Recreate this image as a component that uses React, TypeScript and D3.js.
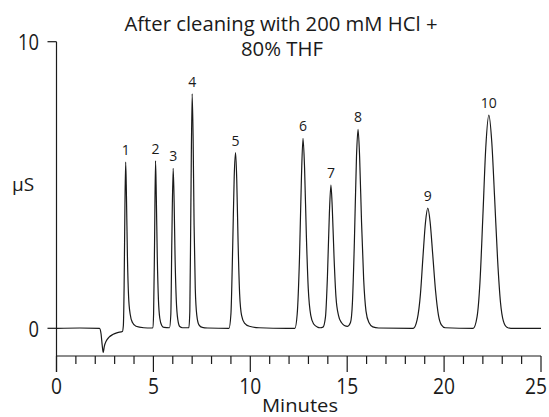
import React from "react";
import * as d3 from "d3";

// Chromatogram trace: [minutes, µS]
const baselineStart: [number, number][] = [
  [0, 0], [1.2, 0.01], [2.22, 0], [2.3, -0.2], [2.36, -0.6], [2.41, -0.84], [2.47, -0.62],
  [2.56, -0.45], [2.7, -0.32], [2.9, -0.22], [3.15, -0.15], [3.4, -0.11],
];
const peak1: [number, number][] = [
  [3.45, 0.1], [3.49, 1.5], [3.53, 4.2], [3.57, 5.8], [3.61, 4.6], [3.66, 2.5], [3.72, 1.1],
  [3.8, 0.5], [3.92, 0.2], [4.1, 0.07], [4.5, 0.02], [4.9, 0.01],
];
const peak2: [number, number][] = [
  [4.97, 0.02], [5.01, 0.5], [5.06, 3.0], [5.11, 5.84], [5.15, 4.6], [5.2, 2.5], [5.26, 1.0],
  [5.33, 0.35], [5.43, 0.1], [5.55, 0.03], [5.83, 0.02],
];
const peak3: [number, number][] = [
  [5.9, 0.5], [5.95, 3.0], [6.02, 5.58], [6.07, 4.4], [6.12, 2.4], [6.18, 1.0], [6.26, 0.3],
  [6.36, 0.06], [6.5, 0.02],
];
const peak4: [number, number][] = [
  [6.83, 0.02], [6.88, 0.6], [6.93, 4.0], [7.0, 8.18], [7.05, 6.6], [7.1, 3.6], [7.16, 1.4],
  [7.24, 0.45], [7.35, 0.12], [7.52, 0.03], [7.8, 0.01],
];
const peak5: [number, number][] = [
  [8.9, 0], [9.0, 0.5], [9.09, 2.8], [9.17, 5.3], [9.24, 6.13], [9.3, 5.2], [9.37, 3.0],
  [9.45, 1.2], [9.55, 0.45], [9.7, 0.18], [9.95, 0.07], [10.45, 0.02], [11.9, 0],
];
const peak6: [number, number][] = [
  [12.3, 0], [12.42, 0.5], [12.54, 2.5], [12.64, 5.3], [12.72, 6.63], [12.8, 5.6], [12.89, 3.3],
  [12.99, 1.4], [13.12, 0.45], [13.27, 0.15], [13.47, 0.04], [13.6, 0.02],
];
const peak7: [number, number][] = [
  [13.75, 0.04], [13.88, 0.4], [13.98, 1.8], [14.08, 4.0], [14.16, 5.0], [14.23, 4.2],
  [14.32, 2.5], [14.42, 1.1], [14.55, 0.45], [14.7, 0.2], [14.85, 0.1], [15.02, 0.07],
];
const peak8: [number, number][] = [
  [15.17, 0.2], [15.27, 0.9], [15.37, 3.0], [15.48, 6.0], [15.56, 6.94], [15.64, 6.0],
  [15.74, 3.7], [15.85, 1.7], [15.97, 0.6], [16.12, 0.2], [16.32, 0.05], [16.62, 0.01], [18.3, 0],
];
const peak9: [number, number][] = [
  [18.41, 0], [18.61, 0.3], [18.78, 1.2], [18.91, 2.5], [19.04, 3.7], [19.16, 4.19], [19.28, 3.7],
  [19.41, 2.6], [19.56, 1.3], [19.71, 0.45], [19.86, 0.12], [20.06, 0.02],
];
const peak10: [number, number][] = [
  [21.5, 0], [21.7, 0.4], [21.85, 1.6], [22.0, 3.9], [22.15, 6.3], [22.31, 7.44], [22.46, 6.5],
  [22.61, 4.5], [22.76, 2.4], [22.91, 0.9], [23.06, 0.25], [23.24, 0.04], [23.45, 0], [25, 0],
];

const peakLabels = ["1", "2", "3", "4", "5", "6", "7", "8", "9", "10"];
const peakTimes = [3.57, 5.11, 6.02, 7.0, 9.24, 12.72, 14.16, 15.56, 19.16, 22.31];
const peakHeights = [5.8, 5.84, 5.58, 8.18, 6.13, 6.63, 5.0, 6.94, 4.19, 7.44];

const xMajorTicks = [0, 5, 10, 15, 20, 25];
const xMinorTicks = d3.range(0, 26, 1);
const yTicks = [0, 10];

const titleLines = ["After cleaning with 200 mM HCl +", "80% THF"];
const xLabel = "Minutes";
const yLabel = "µS";

export default function App() {
  const W = 549;
  const H = 417;
  const x = d3.scaleLinear().domain([0, 25]).range([56.5, 541]);
  const y = d3.scaleLinear().domain([0, 10]).range([328.3, 41.7]);
  const axisY = 356;

  const trace = [
    ...baselineStart, ...peak1, ...peak2, ...peak3, ...peak4, ...peak5,
    ...peak6, ...peak7, ...peak8, ...peak9, ...peak10,
  ];
  const line = d3
    .line<[number, number]>()
    .x((d) => x(d[0]))
    .y((d) => y(d[1]))
    .curve(d3.curveMonotoneX);

  const font = "'Open Sans', 'Noto Sans', sans-serif";
  const ink = "#1a1a1a";

  return (
    <svg
      width={W}
      height={H}
      style={{ position: "absolute", left: 0, top: 0, background: "#fff" }}
      fontFamily={font}
    >
      {/* title */}
      <text x={281} y={30.5} textAnchor="middle" fontSize={20} fill={ink}
        textLength={313} lengthAdjust="spacingAndGlyphs">{titleLines[0]}</text>
      <text x={282} y={56} textAnchor="middle" fontSize={20} fill={ink}
        textLength={82} lengthAdjust="spacingAndGlyphs">{titleLines[1]}</text>

      {/* y axis */}
      <line x1={x(0)} x2={x(0)} y1={y(10)} y2={axisY + 16} stroke={ink} strokeWidth={1.2} />
      {yTicks.map((t) => (
        <g key={"yt" + t}>
          <line x1={x(0) - 9} x2={x(0)} y1={y(t)} y2={y(t)} stroke={ink} strokeWidth={1.2} />
          <text x={39} y={y(t) + 8.5} textAnchor="end" fontSize={22} fill={ink}
            textLength={t === 10 ? 21 : 10.5} lengthAdjust="spacingAndGlyphs">{t}</text>
        </g>
      ))}
      <text x={12} y={191} fontSize={19} fill={ink}>{yLabel}</text>

      {/* x axis */}
      <line x1={x(0)} x2={x(25)} y1={axisY} y2={axisY} stroke={ink} strokeWidth={1.2} />
      {xMinorTicks.map((t) => (
        <line key={"xm" + t} x1={x(t)} x2={x(t)} y1={axisY}
          y2={axisY + (t % 5 === 0 ? 16 : 8)} stroke={ink} strokeWidth={1.2} />
      ))}
      {xMajorTicks.map((t) => (
        <text key={"xl" + t} x={Math.min(x(t), 536)} y={394} textAnchor="middle" fontSize={21} fill={ink}
          textLength={t >= 10 ? 22 : 11} lengthAdjust="spacingAndGlyphs">{t}</text>
      ))}
      <text x={300} y={412} textAnchor="middle" fontSize={19} fill={ink}
        textLength={76} lengthAdjust="spacingAndGlyphs">{xLabel}</text>

      {/* trace */}
      <path d={line(trace) ?? ""} fill="none" stroke={ink} strokeWidth={1.2} strokeLinejoin="round" />

      {/* peak labels */}
      {peakLabels.map((lab, i) => (
        <text key={"pl" + lab} x={x(peakTimes[i])} y={y(peakHeights[i]) - 7}
          textAnchor="middle" fontSize={14} fill={ink}>{lab}</text>
      ))}
    </svg>
  );
}
